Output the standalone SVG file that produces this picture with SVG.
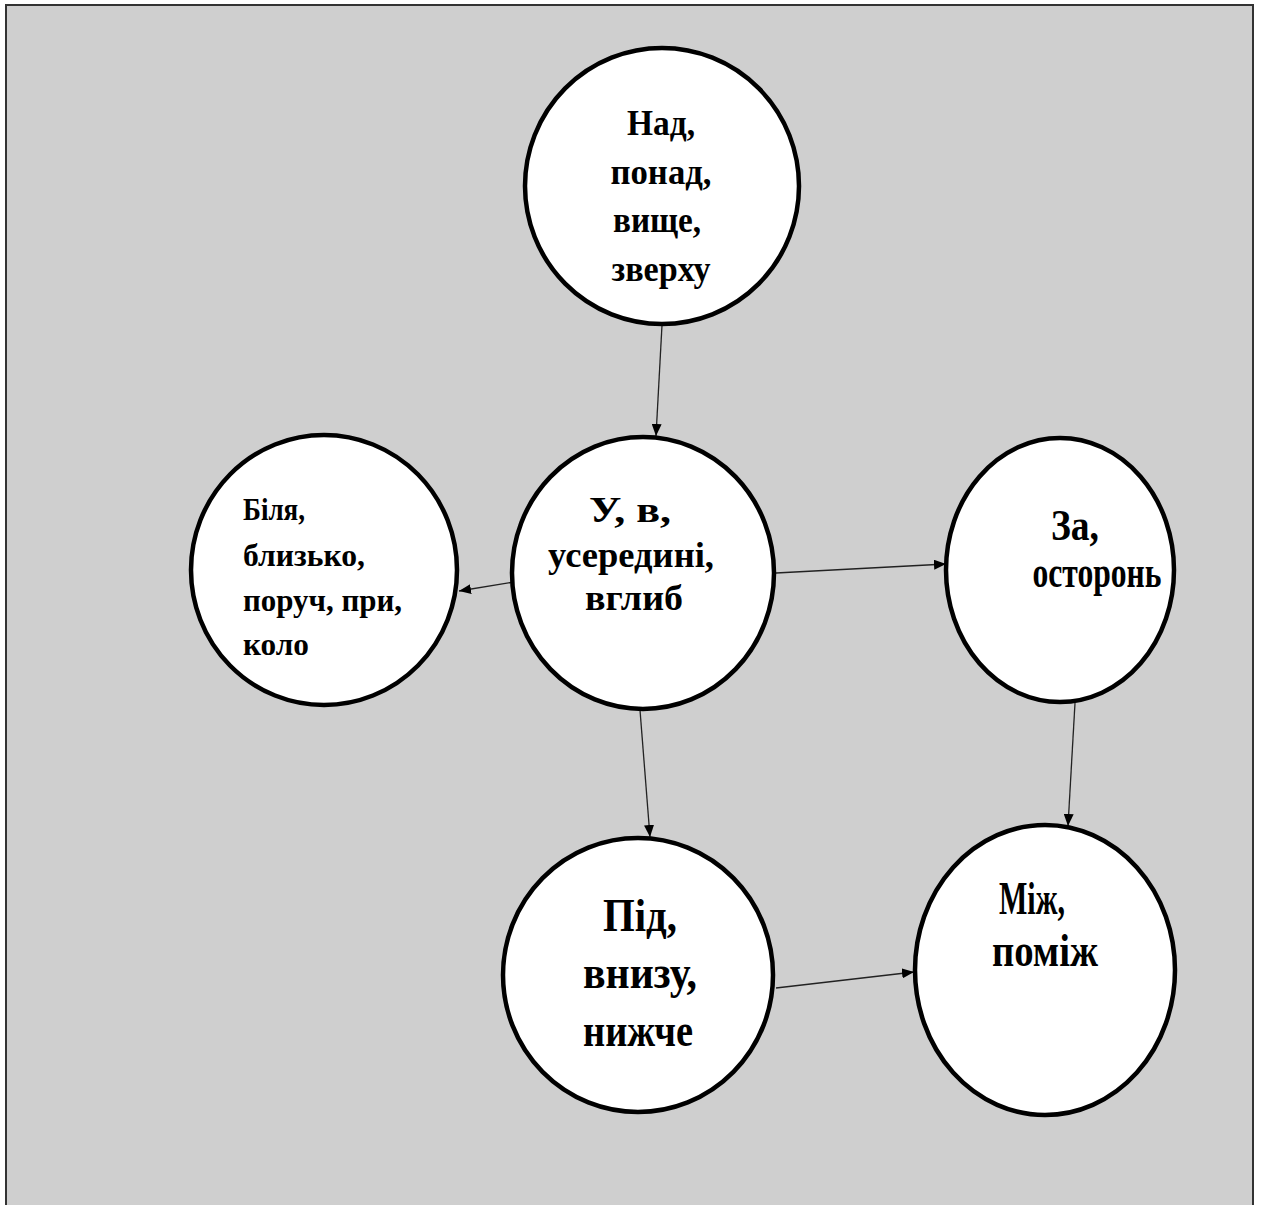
<svg xmlns="http://www.w3.org/2000/svg" width="1261" height="1205" viewBox="0 0 1261 1205">
<defs>
<style>
.node{fill:#fff;stroke:#000;stroke-width:4.5}
.t{font-family:"Liberation Serif","Times New Roman",serif;font-weight:bold;fill:#000}
.c{text-anchor:middle}
.edge{stroke:#222;stroke-width:1.3;fill:none;marker-end:url(#ah)}
</style>
<marker id="ah" viewBox="0 0 12 10" refX="12" refY="5" markerWidth="12" markerHeight="10" markerUnits="userSpaceOnUse" orient="auto">
<path d="M0,0 L12,5 L0,10 Z" fill="#000"/>
</marker>
</defs>
<rect x="0" y="0" width="1261" height="1205" fill="#fff"/>
<rect x="6" y="5" width="1247" height="1210" fill="#cfcfcf" stroke="#333" stroke-width="2"/>
<g id="connectors">
<line class="edge" x1="662" y1="325" x2="656" y2="436"/>
<line class="edge" x1="514" y1="582" x2="459" y2="591"/>
<line class="edge" x1="776" y1="573" x2="946" y2="564"/>
<line class="edge" x1="640" y1="710" x2="650" y2="837"/>
<line class="edge" x1="1075" y1="703" x2="1068" y2="826"/>
<line class="edge" x1="776" y1="988" x2="914" y2="972"/>
</g>
<g id="node-top">
<ellipse class="node" cx="662" cy="186" rx="137" ry="138"/>
<text class="t c" font-size="36" x="661" y="135" textLength="68" lengthAdjust="spacingAndGlyphs">Над,</text>
<text class="t c" font-size="36" x="661" y="184" textLength="101" lengthAdjust="spacingAndGlyphs">понад,</text>
<text class="t c" font-size="36" x="657" y="232" textLength="88" lengthAdjust="spacingAndGlyphs">вище,</text>
<text class="t c" font-size="36" x="661" y="281" textLength="99" lengthAdjust="spacingAndGlyphs">зверху</text>
</g>
<g id="node-center">
<ellipse class="node" cx="643" cy="573" rx="131" ry="136"/>
<text class="t c" font-size="35" x="630" y="522" textLength="82" lengthAdjust="spacingAndGlyphs">У, в,</text>
<text class="t c" font-size="35" x="631" y="567" textLength="166" lengthAdjust="spacingAndGlyphs">усередині,</text>
<text class="t c" font-size="35" x="634" y="610" textLength="98" lengthAdjust="spacingAndGlyphs">вглиб</text>
</g>
<g id="node-left">
<ellipse class="node" cx="324" cy="570" rx="133" ry="135"/>
<text class="t" font-size="32" x="243" y="520" textLength="62" lengthAdjust="spacingAndGlyphs">Біля,</text>
<text class="t" font-size="32" x="243" y="566" textLength="122" lengthAdjust="spacingAndGlyphs">близько,</text>
<text class="t" font-size="32" x="243" y="611" textLength="159" lengthAdjust="spacingAndGlyphs">поруч, при,</text>
<text class="t" font-size="32" x="243" y="655" textLength="66" lengthAdjust="spacingAndGlyphs">коло</text>
</g>
<g id="node-right">
<ellipse class="node" cx="1060" cy="570" rx="114" ry="132"/>
<text class="t c" font-size="44" x="1075" y="540" textLength="48" lengthAdjust="spacingAndGlyphs">За,</text>
<text class="t c" font-size="44" x="1097" y="587" textLength="129" lengthAdjust="spacingAndGlyphs">осторонь</text>
</g>
<g id="node-bottom">
<ellipse class="node" cx="638" cy="975" rx="135" ry="137"/>
<text class="t c" font-size="47" x="640" y="931" textLength="74" lengthAdjust="spacingAndGlyphs">Під,</text>
<text class="t c" font-size="47" x="640" y="988" textLength="114" lengthAdjust="spacingAndGlyphs">внизу,</text>
<text class="t c" font-size="47" x="638" y="1046" textLength="110" lengthAdjust="spacingAndGlyphs">нижче</text>
</g>
<g id="node-bottom-right">
<ellipse class="node" cx="1045" cy="970" rx="130" ry="145"/>
<text class="t c" font-size="46" x="1032" y="914" textLength="66" lengthAdjust="spacingAndGlyphs">Між,</text>
<text class="t c" font-size="46" x="1045" y="966" textLength="106" lengthAdjust="spacingAndGlyphs">поміж</text>
</g>
</svg>
